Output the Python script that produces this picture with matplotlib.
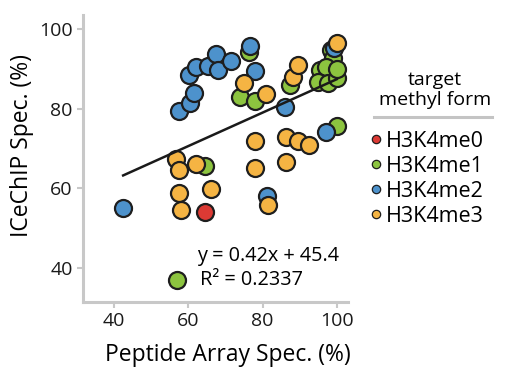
import numpy as np
import matplotlib
matplotlib.use('Agg')
import matplotlib.pyplot as plt
from matplotlib.lines import Line2D

plt.rcParams['font.family'] = ['Open Sans', 'DejaVu Sans']

# peptide array spec (x) vs ICeChIP spec (y), % per antibody
me0_x = [64.5]
me0_y = [54.0]

me1_x = [76.3, 73.9, 77.9, 87.4, 64.5, 100.0, 57.0, 98.5, 99.0, 95.4, 97.2, 95.0, 97.7, 100.0, 100.0]
me1_y = [94.3, 83.0, 82.0, 86.0, 65.6, 75.6, 37.0, 94.7, 92.6, 89.7, 90.4, 86.8, 86.4, 87.6, 90.0]

me2_x = [42.5, 57.6, 60.6, 61.6, 60.2, 62.2, 65.2, 67.6, 68.0, 71.6, 76.6, 78.1, 86.0, 97.2, 81.3, 99.3]
me2_y = [55.2, 79.3, 81.3, 84.0, 88.4, 90.5, 90.7, 93.6, 89.8, 92.0, 95.8, 89.4, 80.4, 74.1, 58.2, 95.1]

me3_x = [74.9, 81.0, 88.3, 89.6, 100.0, 77.9, 86.2, 89.5, 92.5, 77.9, 86.2, 81.5, 56.8, 57.6, 62.0, 57.5, 58.0, 66.1]
me3_y = [86.5, 83.8, 88.0, 90.9, 96.5, 71.8, 73.0, 72.0, 71.0, 65.2, 66.6, 55.9, 67.4, 64.7, 66.0, 58.9, 54.7, 59.9]

slope, intercept, r2 = 0.42, 45.4, 0.2337

colors = {'H3K4me0': '#dc3a34', 'H3K4me1': '#8cc43f', 'H3K4me2': '#4d92cc', 'H3K4me3': '#f5b443'}
edge = '#1e1e1e'

fig = plt.figure(figsize=(5.08, 3.84), dpi=100)
ax = fig.add_axes([0.1634, 0.2135, 0.685 - 0.1634, 0.961 - 0.2135])

series = [('H3K4me1', me1_x, me1_y), ('H3K4me2', me2_x, me2_y),
          ('H3K4me3', me3_x, me3_y), ('H3K4me0', me0_x, me0_y)]
for name, xs, ys in series:
    ax.scatter(xs, ys, s=150, c=colors[name], edgecolors=edge, linewidths=1.6, zorder=2)

# fit line over the data range
all_x = me0_x + me1_x + me2_x + me3_x
fx = np.array([min(all_x), max(all_x)])
ax.plot(fx, slope * fx + intercept, color='#1a1a1a', lw=1.8, zorder=3)

ax.text(62.3, 43.0, f'y = {slope:.2f}x + {intercept:.1f}', fontsize=14.3, va='center', ha='left')
ax.text(63.1, 37.0, f'R\u00b2 = {r2:.4f}', fontsize=14.3, va='center', ha='left')

ax.set_xlim(31.7, 103.0)
ax.set_ylim(31.5, 103.5)
ax.set_xticks([40, 60, 80, 100])
ax.set_yticks([40, 60, 80, 100])
ax.set_xlabel('Peptide Array Spec. (%)', fontsize=16.5, va='center')
ax.set_ylabel('ICeChIP Spec. (%)', fontsize=16.5, va='center')
ax.xaxis.set_label_coords(0.547, -0.185)
ax.yaxis.set_label_coords(-0.232, 0.544)

for s in ['top', 'right']:
    ax.spines[s].set_visible(False)
for s in ['left', 'bottom']:
    ax.spines[s].set_color('#c8c8c8')
    ax.spines[s].set_linewidth(2.2)
ax.tick_params(colors='#c8c8c8', width=1.5, length=4, labelcolor='#1a1a1a', labelsize=14)

# legend
fig.text(435 / 508, 1 - 90 / 384, 'target\nmethyl form', fontsize=14, ha='center', va='center',
         linespacing=1.2)
fig.add_artist(Line2D([374 / 508, 492 / 508], [1 - 117 / 384] * 2, color='#c4c4c4', lw=2.2))
handles = [Line2D([], [], marker='o', ls='none', ms=6, markerfacecolor=colors[k],
                  markeredgecolor=edge, markeredgewidth=0.9) for k in colors]
ax.legend(handles, list(colors), loc='upper left', bbox_to_anchor=(371 / 508, 1 - 131 / 384),
          bbox_transform=fig.transFigure, frameon=False, fontsize=15.5, handlelength=0.5,
          handletextpad=0.2, labelspacing=0.18, borderpad=0, borderaxespad=0)

fig.savefig('out.png', dpi=100)
